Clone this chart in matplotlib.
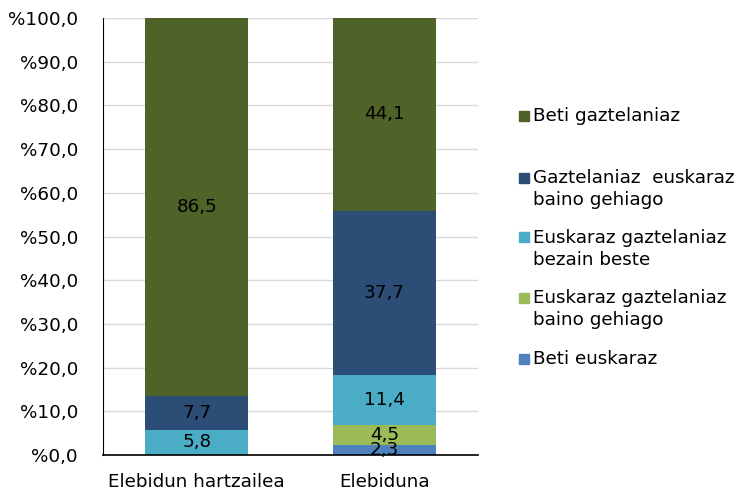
import matplotlib.pyplot as plt
from matplotlib.patches import Rectangle
import numpy as np

categories = ['Elebidun hartzailea', 'Elebiduna']
series_names = ['Beti euskaraz',
                'Euskaraz gaztelaniaz\nbaino gehiago',
                'Euskaraz gaztelaniaz\nbezain beste',
                'Gaztelaniaz  euskaraz\nbaino gehiago',
                'Beti gaztelaniaz']
beti_euskaraz = [0.0, 2.3]
euskaraz_gehiago = [0.0, 4.5]
bezain_beste = [5.8, 11.4]
gaztelaniaz_gehiago = [7.7, 37.7]
beti_gaztelaniaz = [86.5, 44.1]
colors = ['#4f81bd', '#9bbb59', '#4bacc6', '#2c4d75', '#4f6228']

plt.rcParams['font.family'] = 'DejaVu Sans'
fs = 13.2

fig = plt.figure(figsize=(7.55, 4.93), dpi=100)
ax = fig.add_axes([103 / 755, 1 - 455 / 493, 375 / 755, 437 / 493])

x = np.arange(len(categories))
series = [beti_euskaraz, euskaraz_gehiago, bezain_beste,
          gaztelaniaz_gehiago, beti_gaztelaniaz]
bottom = np.zeros(len(categories))
for vals, c in zip(series, colors):
    vals = np.array(vals)
    ax.bar(x, vals, 0.55, bottom=bottom, color=c, zorder=2)
    for xi, b, v in zip(x, bottom, vals):
        if v > 0:
            ax.text(xi, b + v / 2, f'{v:.1f}'.replace('.', ','),
                    ha='center', va='center', fontsize=fs, zorder=3)
    bottom += vals

ax.set_xlim(-0.5, 1.5)
ax.set_ylim(0, 100)
ax.set_yticks(np.arange(0, 101, 10))
ax.set_yticklabels([f'%{v:.1f}'.replace('.', ',') for v in np.arange(0, 101, 10)])
ax.set_xticks(x)
ax.set_xticklabels(categories)
ax.tick_params(axis='both', labelsize=fs, length=0)
ax.tick_params(axis='y', pad=18)
ax.tick_params(axis='x', pad=13)
ax.yaxis.grid(True, color='#d9d9d9', linewidth=1, zorder=0)
for s in ['top', 'right', 'bottom']:
    ax.spines[s].set_visible(False)
ax.spines['left'].set_color('black')
ax.axhline(0, color='black', linewidth=1.2, zorder=4, clip_on=False)

# legend drawn by hand to keep the uneven spacing
legend_y = [116, 189, 249, 309, 359]
legend_order = [4, 3, 2, 1, 0]
for yy, i in zip(legend_y, legend_order):
    lines = series_names[i].count('\n') + 1
    top = yy - (lines - 1) * 11.5
    fig.patches.append(Rectangle((519 / 755, 1 - (top + 5) / 493), 10 / 755, 10 / 493,
                                 transform=fig.transFigure, color=colors[i]))
    fig.text(533 / 755, 1 - yy / 493, series_names[i], fontsize=fs,
             va='center', ha='left', linespacing=1.3)

fig.savefig('out.png', dpi=100)
